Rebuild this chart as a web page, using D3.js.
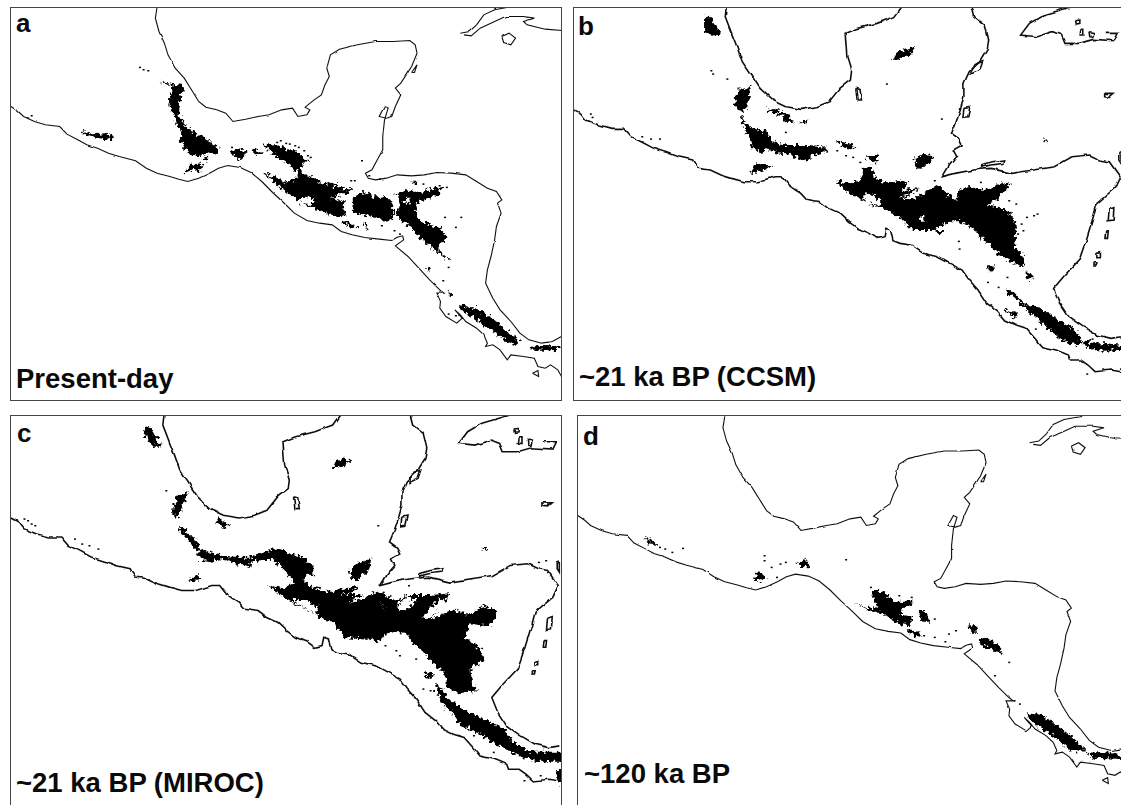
<!DOCTYPE html>
<html>
<head>
<meta charset="utf-8">
<style>
html,body{margin:0;padding:0;background:#fff;overflow:hidden}
text{font-family:"Liberation Sans",Arial,sans-serif;font-weight:bold;fill:#0a0a0a}
</style>
<script src="https://cdnjs.cloudflare.com/ajax/libs/d3/7.8.5/d3.min.js"></script>
</head>
<body>
<svg id="map" width="1121" height="805"></svg>
<script>
'use strict'

var panelLetters = ['a', 'b', 'c', 'd'];
var panelTitles = ['Present-day', '~21 ka BP (CCSM)', '~21 ka BP (MIROC)', '~120 ka BP'];

var pacificNow = [[30,320],[50,335],[65,350],[95,365],[125,375],[165,380],[185,403],[215,420],[240,435],[270,445],[300,460],[330,470],[375,483],[405,505],[435,520],[470,530],[495,538],[520,545],[550,535],[580,520],[605,505],[630,497],[665,503],[695,518],[725,545],[755,578],[785,608],[815,640],[850,662],[885,670],[920,675],[945,695],[975,705],[1010,713],[1050,718],[1085,722],[1100,712],[1115,708],[1118,720],[1095,738],[1130,770],[1160,805],[1190,840],[1218,870],[1230,880],[1210,880],[1220,905],[1218,925],[1235,950],[1265,970],[1280,955],[1260,930],[1275,945],[1290,965],[1320,985],[1340,1005],[1350,1030],[1345,1040],[1365,1035],[1385,1050],[1405,1080],[1415,1065],[1450,1070],[1480,1075],[1490,1100],[1510,1105],[1525,1095],[1545,1110],[1558,1135]];
var gulfNow = [[435,20],[430,55],[440,95],[455,130],[465,165],[485,205],[510,235],[530,270],[550,305],[570,322],[600,330],[625,340],[645,365],[680,358],[715,350],[745,345],[780,330],[810,325],[825,350],[850,345],[858,330],[845,322],[870,300],[890,285],[900,255],[912,230],[905,205],[915,165],[940,148],[990,135],[1040,125],[1090,125],[1135,122],[1150,135],[1155,160],[1140,200],[1125,225],[1110,250],[1095,265],[1110,285],[1095,320],[1085,350],[1070,355],[1050,350],[1065,320],[1075,325],[1065,360],[1060,410],[1060,450],[1045,480],[1030,510],[1012,520],[1020,535],[1040,540],[1070,535],[1100,525],[1140,528],[1175,525],[1210,518],[1250,520],[1290,525],[1320,545],[1350,565],[1375,575],[1390,600],[1378,610],[1388,640],[1375,680],[1370,720],[1360,770],[1350,810],[1345,850],[1365,895],[1385,930],[1415,965],[1440,1000],[1465,1020],[1500,1030],[1530,1025],[1555,1010]];
var cubaNow = [[1275,100],[1300,95],[1320,75],[1340,45],[1370,30],[1420,20]];
var cubaNowSouth = [[1285,105],[1305,108],[1330,85],[1370,65],[1400,50],[1450,50],[1480,55],[1450,65],[1460,75],[1510,88],[1558,92]];
var youthNow = [[1390,110],[1410,100],[1428,115],[1415,135],[1395,128],[1390,110]];
var cozumelNow = [[1140,218],[1155,195],[1148,218],[1140,218]];
var islandNow = [[1475,1120],[1490,1112],[1492,1130],[1475,1120]];
var coastsNow = [pacificNow, gulfNow, cubaNow, cubaNowSouth, youthNow, cozumelNow, islandNow];

var pacificLgm = [[24,328],[45,340],[60,360],[95,375],[130,385],[165,385],[185,410],[215,425],[250,445],[290,458],[320,470],[360,480],[375,505],[410,510],[440,525],[470,535],[505,545],[545,545],[590,530],[612,530],[630,555],[650,570],[665,580],[680,598],[720,605],[745,625],[775,640],[800,665],[825,685],[860,700],[880,715],[900,710],[905,685],[918,690],[925,722],[945,730],[975,735],[1010,760],[1050,770],[1085,790],[1120,810],[1140,840],[1165,870],[1190,910],[1220,935],[1240,960],[1270,975],[1300,985],[1325,1015],[1345,1040],[1385,1050],[1420,1065],[1425,1080],[1455,1080],[1475,1095],[1495,1115],[1540,1110],[1568,1115]];
var gulfLgmWest = [[455,20],[452,50],[470,100],[485,140],[500,185],[525,225],[550,265],[585,300],[625,320],[665,328],[710,320],[745,305],[775,265],[805,240],[808,215],[795,170],[790,100],[825,85],[880,70],[930,50],[950,20]];
var gulfLgmEast = [[1148,20],[1155,50],[1185,75],[1195,120],[1190,150],[1170,185],[1140,215],[1125,250],[1125,290],[1115,330],[1100,375],[1090,400],[1110,415],[1120,435],[1095,450],[1105,470],[1085,495],[1065,530],[1100,520],[1150,510],[1200,505],[1260,520],[1320,510],[1380,500],[1430,470],[1480,465],[1510,480],[1535,485],[1565,530],[1550,565],[1500,610],[1490,650],[1470,720],[1450,780],[1410,825],[1378,865],[1395,910],[1420,950],[1460,980],[1500,1005],[1540,1015],[1568,1010]];
var cubaLgm = [[1430,20],[1350,45],[1310,70],[1285,105],[1330,110],[1375,95],[1400,105],[1410,130],[1450,130],[1490,118],[1550,122],[1560,100],[1525,100]];
var islesLgm = [
	[[1440,62],[1452,60],[1452,70],[1442,72],[1440,62]],
	[[1455,85],[1463,85],[1463,105],[1453,105],[1455,85]],
	[[1478,95],[1492,98],[1488,112],[1480,110],[1478,95]],
	[[1522,280],[1548,280],[1535,292],[1522,290],[1522,280]],
	[[820,265],[832,268],[836,300],[824,300],[820,265]],
	[[1125,325],[1142,322],[1136,350],[1122,352],[1125,325]],
	[[1145,215],[1160,190],[1178,185],[1170,210],[1145,222],[1145,215]],
	[[1175,495],[1205,485],[1240,480],[1238,490],[1200,495],[1175,502],[1175,495]],
	[[1535,625],[1548,620],[1546,660],[1532,662],[1535,625]],
	[[1525,695],[1532,695],[1530,715],[1523,715],[1525,695]],
	[[1500,760],[1510,758],[1510,770],[1500,770],[1500,760]],
	[[1492,785],[1500,785],[1498,795],[1492,795],[1492,785]],
	[[1562,460],[1568,458],[1568,490],[1562,480],[1562,460]]
];
var coastsLgm = [pacificLgm, gulfLgmWest, gulfLgmEast, cubaLgm].concat(islesLgm);

var patchesA = [
	[[445,245],[480,252],[510,255],[505,275],[500,295],[498,320],[495,345],[505,365],[520,385],[540,400],[560,410],[580,425],[600,440],[608,445],[603,465],[575,458],[560,468],[530,465],[510,445],[500,420],[503,395],[490,375],[483,345],[470,320],[468,300],[476,275],[478,258],[445,248]],
	[[510,518],[525,495],[550,490],[565,495],[560,510],[535,512],[515,520]],
	[[555,475],[575,470],[570,485]],
	[[637,455],[660,445],[683,450],[678,470],[665,482],[650,470]],
	[[695,445],[715,450],[730,460],[710,465]],
	[[729,435],[757,430],[789,445],[822,455],[859,485],[835,490],[835,515],[877,540],[900,555],[942,545],[923,560],[983,570],[946,585],[909,595],[955,605],[951,630],[960,645],[932,650],[905,640],[872,625],[845,615],[826,605],[803,585],[775,565],[752,540],[729,520],[757,530],[789,545],[817,540],[826,520],[803,495],[775,475],[748,455]],
	[[974,595],[1006,575],[1029,585],[1048,595],[1071,590],[1089,615],[1089,655],[1071,665],[1043,655],[1006,645],[978,635]],
	[[1098,580],[1122,570],[1145,575],[1168,575],[1200,565],[1228,560],[1214,585],[1186,595],[1158,605],[1149,630],[1158,660],[1191,675],[1218,680],[1237,710],[1223,730],[1214,750],[1246,780],[1218,765],[1191,735],[1163,715],[1140,680],[1117,670],[1098,645],[1108,615]],
	[[1275,915],[1320,925],[1360,950],[1395,985],[1440,1025],[1420,1035],[1380,1005],[1340,975],[1300,945],[1270,925]],
	[[1470,1040],[1510,1035],[1550,1040],[1545,1050],[1500,1052],[1470,1048]],
	[[225,395],[260,403],[290,400],[320,412],[295,420],[265,412],[230,402]],
	[[951,660],[974,670],[992,685],[969,682],[946,670]],
	[[1006,670],[1017,675],[1014,690]],
	[[1180,800],[1195,810],[1185,815]],
	[[1240,870],[1250,885],[1240,890]],
	[[1135,545],[1158,545],[1154,552]]
];
var holesA = [[[826,595],[845,590],[872,600],[863,612],[835,610]],[[1118,600],[1130,590],[1136,608],[1124,618]]];
var specksA = [[385,200],[395,207],[408,210],[85,345],[75,352],[640,440],[775,420],[800,430],[825,440],[850,465],[980,540],[1145,545],[1170,550],[1215,555],[1235,560],[1230,650],[1260,680],[1275,650],[1000,480],[1105,700],[1240,800],[1225,840],[1240,940],[1260,945],[1055,675],[1090,690],[765,425],[790,428],[815,435],[840,450],[858,470],[970,540],[1020,525],[1050,535]];

var patchesB = [
	[[395,50],[410,50],[420,70],[440,100],[425,108],[395,98]],
	[[925,180],[935,155],[990,138],[975,160],[945,178]],
	[[480,290],[490,265],[510,270],[525,255],[520,300],[510,330],[490,335],[478,310]],
	[[495,340],[510,370],[530,385],[570,395],[585,425],[625,435],[690,435],[735,440],[735,455],[700,465],[680,485],[640,465],[600,460],[570,445],[550,460],[530,440],[520,410],[505,385]],
	[[520,520],[540,490],[565,495],[590,495],[560,510],[530,522]],
	[[570,322],[600,330],[625,340],[645,365],[620,365],[615,345],[575,335]],
	[[660,365],[690,358],[675,370]],
	[[982,475],[1010,465],[1039,468],[1025,490],[996,510],[987,490]],
	[[766,545],[813,550],[837,535],[837,505],[865,500],[874,535],[912,550],[954,540],[968,550],[949,570],[1001,565],[973,585],[940,595],[982,595],[1020,575],[1048,555],[1076,580],[1104,600],[1112,565],[1151,560],[1189,570],[1227,550],[1255,555],[1227,590],[1194,615],[1227,625],[1255,640],[1274,680],[1269,740],[1292,770],[1297,800],[1264,790],[1227,765],[1194,730],[1170,710],[1151,685],[1112,665],[1095,660],[1067,675],[1039,690],[982,690],[954,660],[921,640],[893,625],[865,615],[827,595],[794,575]],
	[[1048,690],[1067,690],[1069,700],[1048,698]],
	[[1194,795],[1212,800],[1208,815],[1194,810]],
	[[1302,815],[1319,825],[1311,840],[1302,835]],
	[[1245,865],[1265,875],[1300,915],[1330,918],[1370,945],[1410,970],[1445,1000],[1460,1030],[1425,1035],[1390,1010],[1350,975],[1310,935],[1270,895],[1250,880]],
	[[1460,1020],[1490,1030],[1530,1030],[1568,1035],[1568,1050],[1520,1052],[1490,1050],[1465,1035]],
	[[850,470],[880,460],[885,485],[865,490]],
	[[1240,928],[1280,945],[1270,952],[1242,935]],
	[[1350,418],[1365,420],[1355,424]],
	[[760,420],[800,430],[820,445],[790,445]]
];
var holesB = [[[837,585],[860,578],[888,600],[884,615],[851,610]],[[996,655],[1010,650],[1012,662],[999,662]]];
var specksB = [[410,210],[415,220],[455,235],[70,340],[75,350],[215,408],[240,415],[265,415],[905,250],[1060,355],[620,395],[765,450],[790,465],[810,470],[830,485],[1108,722],[1110,745],[1245,830],[1220,860],[1190,845],[1300,650],[1330,640],[1250,600],[1170,545],[1040,540],[1325,985],[1485,1015],[1515,1105],[1565,1105],[1470,1120],[1285,670],[1275,700],[1290,690],[1320,645],[1270,610]];

var patchesC = [
	[[398,65],[415,70],[430,95],[445,125],[425,125],[405,100]],
	[[930,170],[950,160],[975,170],[945,185],[920,190]],
	[[480,315],[490,270],[520,262],[510,290],[500,325],[490,345],[480,330]],
	[[600,340],[615,345],[635,360],[620,372],[605,355]],
	[[497,360],[520,385],[545,405],[555,430],[580,445],[610,450],[640,455],[695,455],[700,470],[690,470],[695,490],[670,480],[620,465],[590,470],[560,465],[540,430],[515,400],[497,375]],
	[[692,455],[729,440],[771,430],[812,450],[849,460],[868,485],[868,515],[849,505],[840,530],[872,550],[914,560],[955,550],[997,545],[979,560],[942,570],[1006,570],[960,595],[932,600],[997,585],[1043,560],[1080,575],[1089,590],[1136,570],[1191,570],[1246,565],[1223,605],[1191,645],[1246,615],[1292,625],[1306,625],[1339,603],[1375,615],[1371,645],[1348,665],[1302,655],[1302,670],[1283,695],[1329,730],[1339,765],[1306,790],[1311,845],[1325,855],[1274,865],[1237,845],[1237,815],[1205,780],[1172,740],[1145,715],[1126,685],[1099,680],[1062,690],[1052,710],[1034,705],[956,700],[932,660],[891,640],[859,620],[817,595],[785,575],[739,540],[785,550],[817,530],[794,505],[757,465],[729,465],[692,470]],
	[[969,495],[992,475],[1029,460],[1020,495],[992,525],[974,525]],
	[[1205,840],[1225,850],[1240,880],[1290,915],[1350,945],[1395,970],[1420,1010],[1470,1040],[1560,1040],[1560,1070],[1490,1070],[1430,1050],[1370,1015],[1310,975],[1275,960],[1250,930],[1230,900],[1210,860]],
	[[1177,800],[1205,810],[1196,825],[1177,815]],
	[[1335,428],[1352,430],[1340,434]],
	[[1540,1095],[1560,1095],[1560,1140],[1545,1130]],
	[[520,525],[550,510],[555,525],[530,530]]
];
var holesC = [[[808,585],[849,585],[882,605],[877,630],[845,610]],[[1225,915],[1255,920],[1265,950],[1245,955]],[[1099,600],[1126,575],[1154,585],[1136,605],[1103,620]],[[1172,635],[1219,580],[1237,595],[1200,630],[1182,645]],[[1052,580],[1066,615],[1057,595]]];
var specksC = [[65,340],[75,345],[85,355],[95,360],[205,400],[225,415],[245,420],[270,430],[458,255],[1045,360],[1095,735],[1105,750],[1150,760],[1170,850],[1190,855],[1310,990],[1365,1040],[1495,1110],[1450,1125],[1490,470],[1510,465],[1065,720],[1130,540],[1060,560]];

var patchesD = [
	[[225,398],[250,408],[260,420],[235,415]],
	[[650,475],[680,462],[690,485],[670,488]],
	[[530,520],[548,500],[570,520],[545,530]],
	[[865,555],[885,555],[910,570],[935,590],[985,590],[960,605],[945,625],[985,640],[970,660],[945,658],[915,640],[890,620],[860,620],[815,590],[850,610],[880,605],[870,585]],
	[[998,615],[1015,615],[1030,650],[1005,650]],
	[[1135,665],[1155,660],[1165,680],[1145,680]],
	[[1165,705],[1185,695],[1220,720],[1235,745],[1210,735],[1175,720]],
	[[1300,925],[1345,930],[1385,960],[1430,995],[1470,1035],[1430,1040],[1385,1000],[1345,970],[1310,945]],
	[[1470,1045],[1510,1040],[1568,1048],[1568,1062],[1520,1060],[1490,1058]],
	[[965,675],[1000,680],[1000,695],[975,690]]
];
var holesD = [];
var specksD = [[265,425],[280,430],[300,440],[330,428],[560,450],[560,465],[580,485],[605,475],[620,470],[595,515],[790,462],[860,545],[940,570],[975,575],[1040,640],[1010,690],[1040,695],[1080,685],[1070,708],[1100,675],[1210,810],[1250,770],[1265,885],[1280,895]];

var patchSets = [patchesA, patchesB, patchesC, patchesD];
var holeSets = [holesA, holesB, holesC, holesD];
var speckSets = [specksA, specksB, specksC, specksD];
var coastSets = [coastsNow, coastsLgm, coastsLgm, coastsNow];

function addRough(defs, id, freq, scale){
	var filter = defs.append('filter')
		.attr('id', id)
		.attr('filterUnits', 'userSpaceOnUse')
		.attr('x', 0).attr('y', 0).attr('width', 1121).attr('height', 805);
	filter.append('feTurbulence')
		.attr('type', 'fractalNoise')
		.attr('baseFrequency', freq)
		.attr('numOctaves', 2)
		.attr('seed', 4);
	filter.append('feDisplacementMap')
		.attr('in', 'SourceGraphic')
		.attr('scale', scale)
		.attr('xChannelSelector', 'R')
		.attr('yChannelSelector', 'G');
}

function init(){
	var svg = d3.select('#map');
	var defs = svg.append('defs');

	// rough edge of the range, like the raster cells in the figure
	addRough(defs, 'rough', 0.28, 9);
	// the coast of the 21 ka panels is more jagged than the others
	addRough(defs, 'coastRough', 0.09, 4);
	addRough(defs, 'coastSoft', 0.09, 2);

	var panels = [
		{ box: [10, 7, 561, 400], cropX: [0, 1565, 0, 565], cropY: 0, coastX: [30, 1130, 11, 408], coastY: [125, 545, 41.5, 181.5], rough: 'coastSoft', coastWidth: 1.1 },
		{ box: [573, 7, 1125, 400], cropX: [0, 1568, 565, 1121], cropY: 0, coastX: [24, 1378, 573.5, 1053.6], coastY: [20, 1115, 6.7, 371.7], rough: 'coastRough', coastWidth: 1.6 },
		{ box: [10, 415, 561, 810], cropX: [0, 1565, 0, 565], cropY: 405, coastX: [24, 1378, 10.8, 491.8], coastY: [20, 1115, 415, 781], rough: 'coastRough', coastWidth: 1.6 },
		{ box: [577, 415, 1125, 810], cropX: [0, 1568, 565, 1121], cropY: 405, coastX: [30, 1130, 577.8, 977], coastY: [125, 545, 451, 590], rough: 'coastSoft', coastWidth: 1.1 }
	];
	var letterPos = [[16, 32], [578, 35], [17, 442], [583, 445]];
	var titlePos = [[16, 388], [579, 386], [16, 792], [584, 783]];

	var line = d3.line();

	panels.forEach(function(p, i){
		var g = svg.append('g');
		var clipId = 'clip' + i;

		g.append('clipPath').attr('id', clipId)
			.append('rect')
			.attr('x', p.box[0]).attr('y', p.box[1])
			.attr('width', p.box[2]-p.box[0]).attr('height', p.box[3]-p.box[1]);

		var x = d3.scaleLinear().domain([p.cropX[0], p.cropX[1]]).range([p.cropX[2], p.cropX[3]]);
		var y = d3.scaleLinear().domain([0, 1215]).range([p.cropY, p.cropY+405]);
		var cx = d3.scaleLinear().domain([p.coastX[0], p.coastX[1]]).range([p.coastX[2], p.coastX[3]]);
		var cy = d3.scaleLinear().domain([p.coastY[0], p.coastY[1]]).range([p.coastY[2], p.coastY[3]]);

		var body = g.append('g').attr('clip-path', 'url(#' + clipId + ')');
		var ranges = body.append('g').attr('filter', 'url(#rough)');

		line.x(function(d){ return x(d[0]); }).y(function(d){ return y(d[1]); });

		ranges.selectAll('path.range').data(patchSets[i]).enter().append('path')
			.attr('class', 'range')
			.attr('d', function(d){ return line(d) + 'Z'; })
			.attr('fill', '#000');

		ranges.selectAll('path.hole').data(holeSets[i]).enter().append('path')
			.attr('class', 'hole')
			.attr('d', function(d){ return line(d) + 'Z'; })
			.attr('fill', '#fff');

		body.selectAll('rect.speck').data(speckSets[i]).enter().append('rect')
			.attr('class', 'speck')
			.attr('x', function(d){ return x(d[0]); })
			.attr('y', function(d){ return y(d[1]); })
			.attr('width', 2).attr('height', 1.5)
			.attr('fill', '#000');

		line.x(function(d){ return cx(d[0]); }).y(function(d){ return cy(d[1]); });

		body.append('g').attr('filter', 'url(#' + p.rough + ')')
			.selectAll('path.coast').data(coastSets[i]).enter().append('path')
			.attr('class', 'coast')
			.attr('d', line)
			.attr('fill', 'none')
			.attr('stroke', '#111')
			.attr('stroke-width', p.coastWidth);

		g.append('rect')
			.attr('x', p.box[0]+0.5).attr('y', p.box[1]+0.5)
			.attr('width', p.box[2]-p.box[0]).attr('height', p.box[3]-p.box[1])
			.attr('fill', 'none')
			.attr('stroke', '#444')
			.attr('stroke-width', 1);

		g.append('text')
			.attr('x', letterPos[i][0]).attr('y', letterPos[i][1])
			.style('font-size', '26px')
			.text(panelLetters[i]);

		g.append('text')
			.attr('x', titlePos[i][0]).attr('y', titlePos[i][1])
			.style('font-size', '27.5px')
			.text(panelTitles[i]);
	});
}

init();
</script>
</body>
</html>
